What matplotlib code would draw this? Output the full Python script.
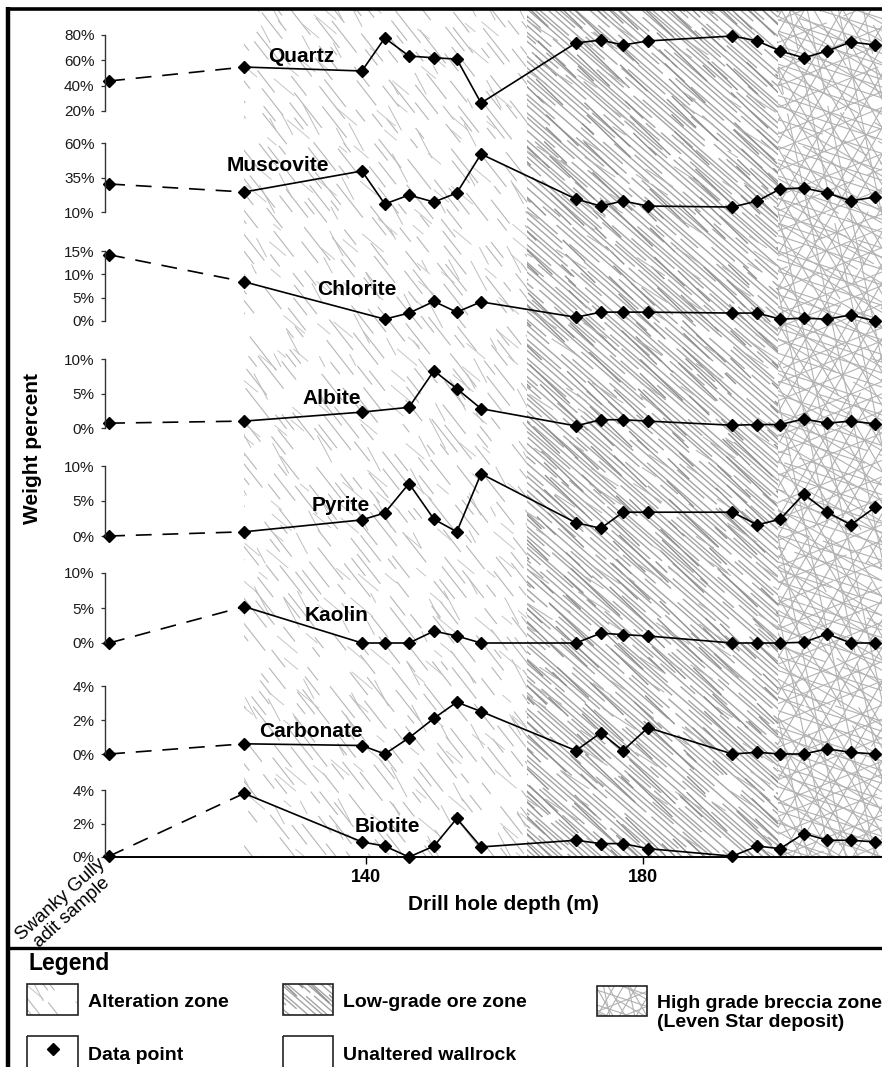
import matplotlib
matplotlib.use("Agg")
import matplotlib.pyplot as plt
import numpy as np
from matplotlib.collections import LineCollection
from matplotlib.patches import Rectangle
from matplotlib.transforms import blended_transform_factory

plt.rcParams['font.family'] = ['Liberation Sans', 'DejaVu Sans']

# drill hole sample depths (m)
depths = [122.4, 139.4, 142.7, 146.2, 149.8, 153.1, 156.6, 170.3, 173.9, 177.1,
          180.7, 192.9, 196.5, 199.8, 203.2, 206.6, 210.0, 213.5]

# weight percent, Swanky Gully adit sample first, then the drill hole
nan = np.nan
quartz_adit, quartz = 43.7, [54.7, 51.6, 77.6, 63.4, 62.0, 61.0, 26.3, 73.7, 76.0,
                             72.1, 75.3, 79.2, 75.3, 67.4, 62.0, 67.4, 74.5, 72.1]
muscovite_adit, muscovite = 30.3, [24.5, 39.7, 15.8, 22.3, 17.2, 23.8, 52.0, 19.4, 14.3,
                                   18.0, 14.3, 13.6, 18.0, 26.7, 27.4, 23.8, 18.0, 20.9]
chlorite_adit, chlorite = 14.2, [8.4, nan, 0.4, 1.7, 4.2, 1.9, 4.1, 0.8, 1.9,
                                 1.9, 1.9, 1.7, 1.7, 0.4, 0.6, 0.4, 1.3, 0.0]
albite_adit, albite = 0.7, [1.0, 2.3, nan, 3.0, 8.3, 5.7, 2.8, 0.3, 1.2,
                            1.2, 1.0, 0.4, 0.5, 0.5, 1.3, 0.7, 1.0, 0.6]
pyrite_adit, pyrite = 0.0, [0.6, 2.3, 3.3, 7.5, 2.4, 0.6, 8.9, 1.9, 1.1,
                            3.4, 3.4, 3.4, 1.6, 2.4, 6.0, 3.4, 1.6, 4.1]
kaolin_adit, kaolin = 0.0, [5.2, 0.0, 0.0, 0.0, 1.7, 1.0, 0.0, 0.0, 1.4,
                            1.2, 1.0, 0.0, 0.0, 0.0, 0.1, 1.3, 0.0, 0.0]
carbonate_adit, carbonate = 0.0, [0.6, 0.5, 0.0, 0.95, 2.1, 3.05, 2.5, 0.2, 1.25,
                                  0.2, 1.55, 0.0, 0.1, 0.0, 0.0, 0.3, 0.1, 0.0]
biotite_adit, biotite = 0.05, [3.8, 0.9, 0.65, 0.0, 0.65, 2.3, 0.6, 1.0, 0.8,
                               0.8, 0.5, 0.05, 0.65, 0.5, 1.4, 1.0, 1.0, 0.9]

names = ['Quartz', 'Muscovite', 'Chlorite', 'Albite', 'Pyrite', 'Kaolin',
         'Carbonate', 'Biotite']
series = [(quartz_adit, quartz), (muscovite_adit, muscovite), (chlorite_adit, chlorite),
          (albite_adit, albite), (pyrite_adit, pyrite), (kaolin_adit, kaolin),
          (carbonate_adit, carbonate), (biotite_adit, biotite)]
yticks = [[20, 40, 60, 80], [10, 35, 60], [0, 5, 10, 15], [0, 5, 10],
          [0, 5, 10], [0, 5, 10], [0, 2, 4], [0, 2, 4]]
xticks = [140, 180]

# zone limits along the hole (m)
zones = [('alteration', 122.4, 163.2), ('lowgrade', 163.2, 199.5), ('breccia', 199.5, 240.0)]

# ---- layout (pixels) ----
W, H = 882, 1067
X0 = 105                      # left end of the depth axes
XLIM = (102.3, 214.5)
ADIT_X = 102.9
MS = 5.8
panel_px = [(35, 111), (143, 212), (251, 321), (359, 428),
            (466, 536), (573, 643), (686, 754), (790, 857)]
label_px = [(301, 62), (278, 171), (357, 295), (332, 404),
            (341, 511), (337, 621), (311, 737), (387, 832)]


def frac(x):
    return x - np.floor(x)


def strokes(box, angle, spacing, seg, gap, seed=0.0):
    """Broken parallel strokes covering box (x0, y0, x1, y1), y pointing down."""
    x0, y0, x1, y1 = box
    a = np.radians(angle)
    u = np.array([np.cos(a), np.sin(a)])
    n = np.array([-np.sin(a), np.cos(a)])
    corners = np.array([[x0, y0], [x1, y0], [x0, y1], [x1, y1]], float)
    cn, cu = corners @ n, corners @ u
    out = []
    c, i = cn.min(), 0
    while c < cn.max():
        t = cu.min() - seg[1] * frac(i * 0.7548 + seed)
        k = 0
        while t < cu.max():
            ln = seg[0] + (seg[1] - seg[0]) * frac(i * 0.5698 + k * 0.6180 + seed)
            out.append([c * n + t * u, c * n + (t + ln) * u])
            t += ln + gap[0] + (gap[1] - gap[0]) * frac(i * 0.4142 + k * 0.7321 + seed * 1.3)
            k += 1
        c += spacing * (0.6 + 0.8 * frac(i * 0.3183 + seed))
        i += 1
    return out


def texture(ax, kind, box, clip):
    if kind == 'alteration':
        fams = [(52, 8, (10, 45), (12, 70), '#b6b6b6', 0.8, 0.1),
                (40, 15, (10, 30), (40, 110), '#c6c6c6', 0.7, 0.5),
                (62, 20, (10, 35), (40, 120), '#bdbdbd', 0.7, 0.8)]
    elif kind == 'lowgrade':
        fams = [(41, 4.5, (40, 150), (3, 35), '#a4a4a4', 1.0, 0.2),
                (44, 9, (15, 70), (20, 90), '#8e8e8e', 1.0, 0.7),
                (33, 14, (10, 40), (40, 120), '#b4b4b4', 0.8, 0.4)]
    else:
        fams = [(18, 12, (100, 500), (0, 25), '#b0b0b0', 0.8, 0.1),
                (30, 14, (100, 500), (0, 25), '#b2b2b2', 0.8, 0.3),
                (60, 15, (100, 500), (0, 25), '#b0b0b0', 0.8, 0.5),
                (-60, 13, (100, 500), (0, 25), '#b0b0b0', 0.8, 0.7),
                (-22, 18, (100, 500), (0, 25), '#b4b4b4', 0.8, 0.9),
                (78, 24, (100, 500), (0, 25), '#b4b4b4', 0.8, 0.2)]
    for ang, sp, seg, gap, col, lw, sd in fams:
        lc = LineCollection(strokes(box, ang, sp, seg, gap, sd), colors=col,
                            linewidths=lw, zorder=1)
        ax.add_collection(lc)
        lc.set_clip_path(clip)


fig = plt.figure(figsize=(W / 100, H / 100), dpi=100)

# pixel-space layer for zone textures, frame and annotations
pix = fig.add_axes([0, 0, 1, 1], zorder=0)
pix.set_xlim(0, W)
pix.set_ylim(H, 0)
pix.axis('off')

axes = []
for k, (name, (adit, vals), ticks, (ytop, ybot)) in enumerate(
        zip(names, series, yticks, panel_px)):
    ax = fig.add_axes([X0 / W, 1 - ybot / H, (W - X0) / W, (ybot - ytop) / H], zorder=2)
    ax.patch.set_visible(False)
    ax.set_xlim(*XLIM)
    ax.set_ylim(ticks[0], ticks[-1])
    d = np.array(depths)
    v = np.array(vals, float)
    ok = ~np.isnan(v)
    ax.plot([ADIT_X, d[0]], [adit, v[0]], color='black', lw=1.2,
            dashes=(9.5, 6.5), clip_on=False)
    ax.plot(d[ok], v[ok], color='black', lw=1.2, marker='D', ms=MS,
            mec='black', mfc='black', clip_on=False)
    ax.plot([ADIT_X], [adit], marker='D', ms=MS, color='black', clip_on=False)
    for s in ('top', 'right', 'bottom'):
        ax.spines[s].set_visible(False)
    ax.spines['left'].set_color('#333333')
    ax.spines['left'].set_linewidth(1.0)
    ax.set_yticks(ticks)
    ax.set_yticklabels([f'{t}%' for t in ticks])
    ax.tick_params(axis='y', direction='out', length=3, width=0.9, color='#333333',
                   labelsize=11, pad=4.5, labelcolor='#1a1a1a')
    ax.set_xticks([])
    axes.append(ax)

bottom = axes[-1]
bottom.spines['bottom'].set_visible(True)
bottom.spines['bottom'].set_linewidth(1.4)
bottom.spines['bottom'].set_color('black')
bottom.set_xticks(xticks)
bottom.set_xticklabels([str(t) for t in xticks], fontweight='bold')
bottom.tick_params(axis='x', direction='out', length=5, width=1.0, labelsize=13, pad=4)

# zone textures, clipped to each zone along the depth axis
blend = blended_transform_factory(bottom.transData, pix.transData)
for kind, z0, z1 in zones:
    clip = Rectangle((z0, 10), z1 - z0, 847, transform=blend)
    texture(pix, kind, (X0, 10, W, 857), clip)

# frame
pix.plot([7.5, 7.5], [7, H], color='black', lw=3.2, solid_capstyle='butt')
pix.plot([6, W], [8.5, 8.5], color='black', lw=2.6, solid_capstyle='butt')
pix.plot([6, W], [948, 948], color='black', lw=2.4, solid_capstyle='butt')

# labels
for name, (lx, ly) in zip(names, label_px):
    pix.text(lx, ly, name, ha='center', va='baseline', fontsize=15,
             fontweight='bold', zorder=3)
pix.text(33, 449, 'Weight percent', rotation=90, ha='center', va='center',
         fontsize=15, fontweight='bold')
pix.text(503, 905, 'Drill hole depth (m)', ha='center', va='center',
         fontsize=15, fontweight='bold')
pix.text(66, 906, 'Swanky Gully\nadit sample', rotation=42, rotation_mode='anchor',
         ha='center', va='center', multialignment='center', fontsize=13.5,
         linespacing=1.05)

# legend
pix.text(28, 970, 'Legend', ha='left', va='baseline', fontsize=16.5, fontweight='bold')
legend_items = [('alteration', (27, 984, 78, 1015), 'Alteration zone', 88, 1007),
                ('lowgrade', (283, 984, 333, 1015), 'Low-grade ore zone', 343, 1007),
                ('breccia', (597, 986, 647, 1016), 'High grade breccia zone', 657, 1008),
                ('point', (27, 1036, 78, 1069), 'Data point', 88, 1060),
                ('blank', (283, 1036, 333, 1069), 'Unaltered wallrock', 343, 1060)]
for kind, (bx0, by0, bx1, by1), text, tx, ty in legend_items:
    rect = Rectangle((bx0, by0), bx1 - bx0, by1 - by0, facecolor='none',
                     edgecolor='#222222', lw=1.2, zorder=3)
    pix.add_patch(rect)
    if kind in ('alteration', 'lowgrade', 'breccia'):
        clip = Rectangle((bx0, by0), bx1 - bx0, by1 - by0, transform=pix.transData)
        texture(pix, kind, (bx0, by0, bx1, by1), clip)
    elif kind == 'point':
        pix.plot([(bx0 + bx1) / 2], [1049], marker='D', ms=MS, color='black')
    pix.text(tx, ty, text, ha='left', va='baseline', fontsize=14, fontweight='bold')
pix.text(657, 1027, '(Leven Star deposit)', ha='left', va='baseline', fontsize=14,
         fontweight='bold')

fig.savefig('out.png', dpi=100)
